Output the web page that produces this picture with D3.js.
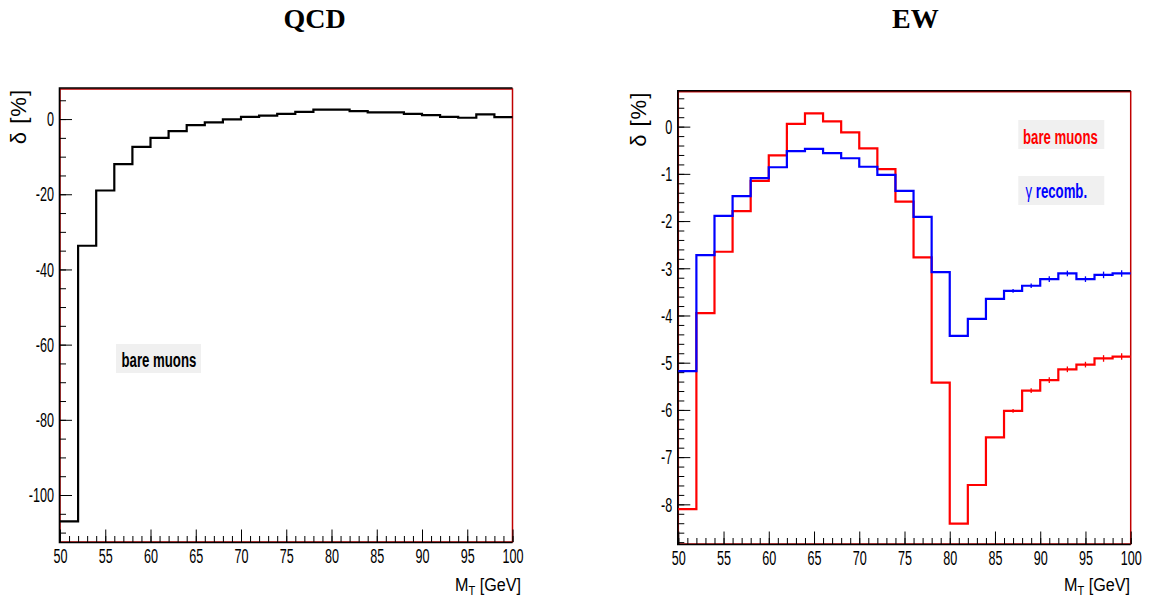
<!DOCTYPE html>
<html lang="en">
<head>
<meta charset="UTF-8">
<title>QCD / EW</title>
<script src="https://cdn.jsdelivr.net/npm/d3@7"></script>
<style>
  body { margin: 0; background: #fff; }
  svg { display: block; }
</style>
</head>
<body>
<svg></svg>
<script>
// lower bin edges in M_T [GeV], last bin closes at 100
var binLow = [50, 52, 54, 56, 58, 60, 62, 64, 66, 68, 70, 72, 74, 76, 78, 80, 82, 84, 86, 88, 90, 92, 94, 96, 98];
var binHigh = 100;

// QCD, bare muons, delta [%]
var qcdBare = [-107, -33.7, -19.0, -12.0, -7.4, -5.0, -3.2, -1.6, -0.9, -0.1, 0.6, 0.9, 1.4, 1.9,
               2.5, 2.5, 2.1, 1.8, 1.8, 1.4, 1.05, 0.6, 0.35, 1.25, 0.5];

// EW, bare muons and gamma recombination, delta [%]
var ewBare = [-8.10, -3.95, -2.65, -1.79, -1.15, -0.61, 0.06, 0.28, 0.11, -0.12, -0.46, -0.90, -1.59, -2.77,
              -5.42, -8.41, -7.59, -6.58, -6.02, -5.59, -5.37, -5.14, -5.04, -4.91, -4.87];
var ewBareErr = [0, 0, 0, 0, 0, 0, 0, 0, 0, 0, 0, 0, 0, 0, 0, 0, 0, 0, 0.04, 0.05, 0.06, 0.06, 0.06, 0.07, 0.07];
var ewRecomb = [-5.18, -2.72, -1.89, -1.47, -1.09, -0.86, -0.52, -0.47, -0.56, -0.67, -0.85, -1.02, -1.36, -1.91,
                -3.08, -4.43, -4.07, -3.65, -3.48, -3.37, -3.23, -3.11, -3.23, -3.14, -3.11];
var ewRecombErr = [0, 0, 0, 0, 0, 0, 0, 0, 0, 0, 0, 0, 0, 0, 0, 0, 0, 0, 0.04, 0.05, 0.06, 0.06, 0.06, 0.07, 0.07];

// tick labels
var xTicks = [50, 55, 60, 65, 70, 75, 80, 85, 90, 95, 100];
var qcdTicks = [-100, -80, -60, -40, -20, 0];
var ewTicks = [-8, -7, -6, -5, -4, -3, -2, -1, 0];

var width = 1149, height = 600;
var svg = d3.select('svg').attr('width', width).attr('height', height);

var SANS = 'Liberation Sans, Arial, Helvetica, sans-serif';
var SQ = 0.6;   // horizontal squeeze of the narrow labels

function drawPanel(o) {
    var g = svg.append('g');
    var x = d3.scaleLinear().domain([50, 100]).range([o.left, o.right]);
    var y = d3.scaleLinear().domain(o.yDomain).range([o.bottom, o.top]);

    // frame
    g.append('rect')
        .attr('x', o.left).attr('y', o.top)
        .attr('width', o.right - o.left).attr('height', o.bottom - o.top)
        .attr('fill', 'none').attr('stroke', '#c00000').attr('stroke-width', 1.5);

    // x minor + major ticks (pointing up into the frame)
    g.append('g').attr('transform', 'translate(0,' + o.bottom + ')')
        .call(d3.axisBottom(x).tickValues(d3.range(50, 101, 1)).tickSize(-6).tickFormat(''))
        .call(function (a) { a.select('.domain').remove(); });
    var xa = g.append('g').attr('transform', 'translate(0,' + o.bottom + ')')
        .call(d3.axisBottom(x).tickValues(xTicks).tickSize(-12.5).tickPadding(6)
            .tickFormat(function (d) { return String(d); }));
    xa.select('.domain').remove();
    xa.selectAll('text')
        .attr('font-family', SANS).attr('font-size', 21).attr('fill', '#000')
        .attr('transform', 'scale(' + SQ + ',1)');

    // y minor + major ticks
    g.append('g').attr('transform', 'translate(' + o.left + ',0)')
        .call(d3.axisLeft(y).tickValues(o.minor).tickSize(-6).tickFormat(''))
        .call(function (a) { a.select('.domain').remove(); });
    var ya = g.append('g').attr('transform', 'translate(' + o.left + ',0)')
        .call(d3.axisLeft(y).tickValues(o.ticks).tickSize(-12).tickPadding(6)
            .tickFormat(function (d) { return String(d); }));
    ya.select('.domain').remove();
    ya.selectAll('text')
        .attr('font-family', SANS).attr('font-size', 21).attr('fill', '#000')
        .attr('x', -6 / SQ)
        .attr('transform', 'scale(' + SQ + ',1)');

    // black axis lines
    g.append('path')
        .attr('d', 'M' + o.right + ',' + (o.top - 1) + 'H' + (o.left - 0.5) + 'V' + (o.bottom + 0.5) + 'H' + o.right)
        .attr('fill', 'none').attr('stroke', '#000').attr('stroke-width', 1.6);

    // histograms
    var line = d3.line()
        .x(function (d) { return x(d[0]); })
        .y(function (d) { return y(d[1]); })
        .curve(d3.curveStepAfter);
    o.series.forEach(function (s) {
        var pts = s.values.map(function (v, i) { return [binLow[i], v]; });
        pts.push([binHigh, s.values[s.values.length - 1]]);
        g.append('path').attr('d', line(pts))
            .attr('fill', 'none').attr('stroke', s.color).attr('stroke-width', 2.2);
        if (s.err) {
            g.selectAll(null)
                .data(s.values.map(function (v, i) { return { x: binLow[i] + 1, v: v, e: s.err[i] }; })
                    .filter(function (d) { return d.e > 0; }))
                .enter().append('line')
                .attr('x1', function (d) { return x(d.x); })
                .attr('x2', function (d) { return x(d.x); })
                .attr('y1', function (d) { return y(d.v - d.e); })
                .attr('y2', function (d) { return y(d.v + d.e); })
                .attr('stroke', s.color).attr('stroke-width', 1.3);
        }
    });

    // legend boxes
    o.legend.forEach(function (l) {
        g.append('rect').attr('x', l.x).attr('y', l.y).attr('width', l.w).attr('height', l.h)
            .attr('fill', '#f0f0f0');
        var t = g.append('text')
            .attr('transform', 'translate(' + l.tx + ',' + l.ty + ') scale(0.66,1)')
            .attr('font-family', SANS).attr('font-size', 20).attr('font-weight', 'bold')
            .attr('fill', l.color);
        l.parts.forEach(function (p) {
            t.append('tspan').attr('font-weight', p.w || 'bold').text(p.t);
        });
    });

    // titles
    g.append('text').attr('x', o.titleX).attr('y', 28).attr('text-anchor', 'middle')
        .attr('font-family', 'Liberation Serif, Times New Roman, serif')
        .attr('font-size', 28).attr('font-weight', 'bold').text(o.title);

    g.append('text')
        .attr('transform', 'translate(' + o.yLabelX + ',' + o.top + ') rotate(-90)')
        .attr('text-anchor', 'end').attr('font-family', SANS).attr('font-size', 22)
        .attr('letter-spacing', 1)
        .text('\u03b4 [%]');

    var xt = g.append('text')
        .attr('transform', 'translate(' + o.xLabelEnd + ',591) scale(0.85,1)')
        .attr('text-anchor', 'end').attr('font-family', SANS).attr('font-size', 19);
    xt.append('tspan').text('M');
    xt.append('tspan').attr('font-size', 13).attr('dy', 4).text('T');
    xt.append('tspan').attr('dy', -4).text(' [GeV]');
}

drawPanel({
    left: 60, right: 512.5, top: 89, bottom: 542,
    yDomain: [-112.5, 8],
    ticks: qcdTicks, minor: d3.range(-110, 8, 5),
    title: 'QCD', titleX: 314.7, yLabelX: 26, xLabelEnd: 521,
    series: [{ values: qcdBare, color: '#000' }],
    legend: [{ x: 116, y: 344, w: 85, h: 29, tx: 121.5, ty: 367, color: '#000',
               parts: [{ t: 'bare muons' }] }]
});

drawPanel({
    left: 678.3, right: 1130.7, top: 91.7, bottom: 544,
    yDomain: [-8.84, 0.74],
    ticks: ewTicks, minor: d3.range(-8.8, 0.75, 0.2),
    title: 'EW', titleX: 915.3, yLabelX: 646, xLabelEnd: 1130,
    series: [{ values: ewBare, err: ewBareErr, color: '#ff0000' },
             { values: ewRecomb, err: ewRecombErr, color: '#0000ff' }],
    legend: [{ x: 1018.3, y: 120, w: 86, h: 29, tx: 1023, ty: 144, color: '#ff0000',
               parts: [{ t: 'bare muons' }] },
             { x: 1018.3, y: 176, w: 86, h: 29, tx: 1025.5, ty: 198, color: '#0000ff',
               parts: [{ t: '\u03b3', w: 'normal' }, { t: ' recomb.' }] }]
});
</script>
</body>
</html>
